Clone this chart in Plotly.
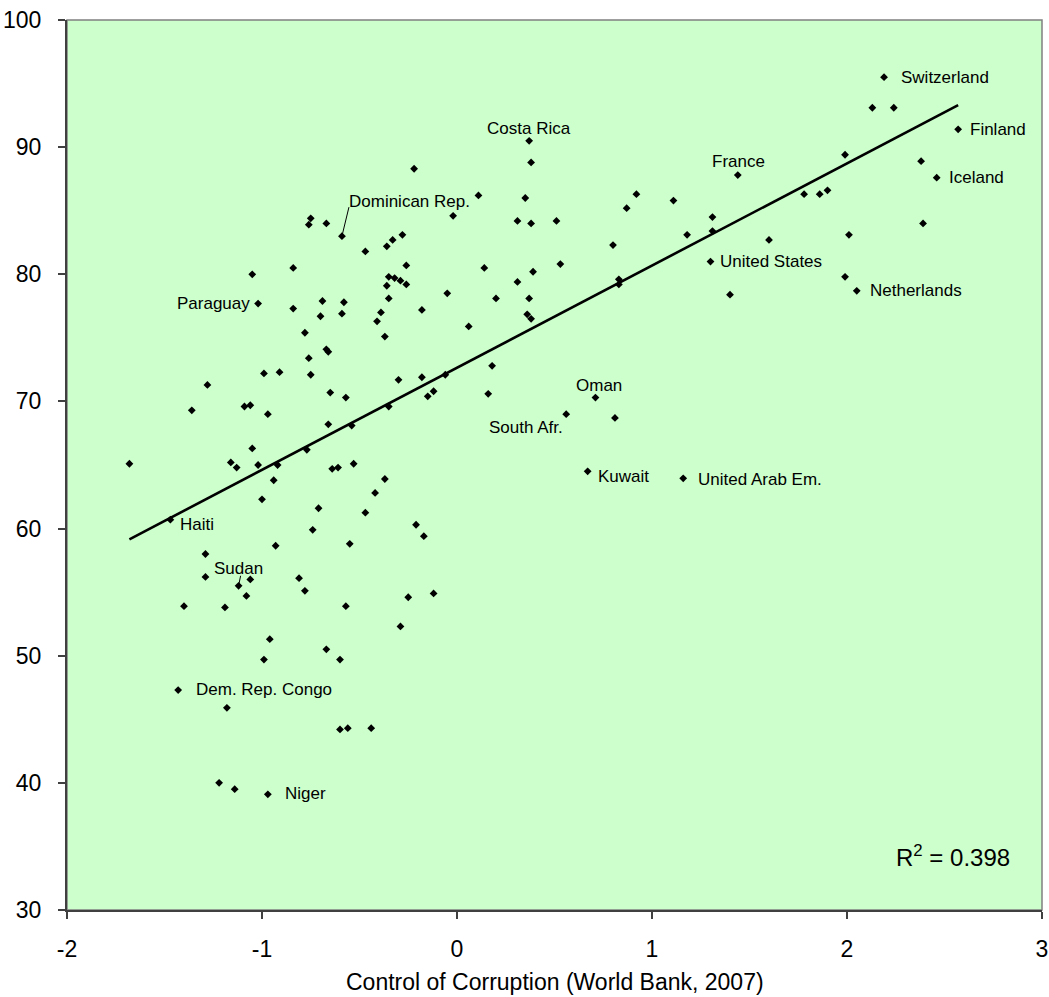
import numpy as np
import plotly.graph_objects as go

# ---- data: unlabeled countries (control of corruption, score) ----
x_unlabeled = [
    -0.84, -0.69, -0.58, -0.70, -0.59, -0.78, -0.76, -0.67, -0.66, -0.99, -0.91, -0.75,
    -1.28, -0.65, -0.57, -1.36, -1.09, -1.06, -0.97, -0.66, -0.54, -1.05, -0.77, -1.68,
    -1.16, -1.13, -1.02, -0.92, -0.64, -0.61, -0.53, -0.94, -1.00, -0.71, -0.74, -0.93,
    -0.55, -1.29,
    -1.29, -1.06, -0.81, -0.78, -1.08, -1.40, -1.19, -0.57, -0.96, -0.67, -0.99, -0.60,
    -1.18, -0.60, -0.56, -1.22, -1.14,
    -0.37, -0.42, -0.47, -0.21, -0.17, -0.25, -0.12, -0.29, -0.44,
    -0.75, -0.76, -0.67, 0.11, 0.35, -0.02, 0.31, 0.38, -0.47, -0.36, -0.33, -0.28,
    -0.84, -1.05, -0.26, 0.14, 0.39, -0.35, -0.32, -0.29, -0.26, -0.36, 0.31, -0.05,
    -0.35, 0.20, 0.37, -0.39, -0.18, -0.41, 0.36, 0.38, 0.06, -0.37, -0.30, -0.18,
    -0.06, 0.18, -0.15, -0.12, 0.16, -0.35,
    0.38, 0.92, 0.87, 1.11, 0.51, 1.31, 1.31, 1.18, 0.80, 0.53, 0.83, 0.83, 1.40, 0.81,
    2.13, 2.24, 1.99, 2.38, 1.78, 1.86, 1.90, 2.39, 1.60, 2.01, 1.99,
    -0.22,
]
y_unlabeled = [
    77.3, 77.9, 77.8, 76.7, 76.9, 75.4, 73.4, 74.1, 73.9, 72.2, 72.3, 72.1,
    71.3, 70.7, 70.3, 69.3, 69.6, 69.7, 69.0, 68.2, 68.1, 66.3, 66.2, 65.1,
    65.2, 64.8, 65.0, 65.0, 64.7, 64.8, 65.1, 63.8, 62.3, 61.6, 59.9, 58.65,
    58.8, 58.0,
    56.2, 56.0, 56.1, 55.1, 54.7, 53.9, 53.8, 53.9, 51.3, 50.5, 49.7, 49.7,
    45.9, 44.2, 44.3, 40.0, 39.5,
    63.9, 62.8, 61.25, 60.3, 59.4, 54.6, 54.9, 52.3, 44.3,
    84.4, 83.9, 84.0, 86.2, 86.0, 84.6, 84.2, 84.0, 81.8, 82.2, 82.7, 83.1,
    80.5, 80.0, 80.7, 80.5, 80.2, 79.8, 79.7, 79.5, 79.2, 79.1, 79.4, 78.5,
    78.1, 78.1, 78.1, 77.0, 77.2, 76.3, 76.85, 76.5, 75.9, 75.1, 71.7, 71.9,
    72.1, 72.8, 70.4, 70.8, 70.6, 69.6,
    88.8, 86.3, 85.2, 85.8, 84.2, 84.5, 83.4, 83.1, 82.3, 80.8, 79.6, 79.2, 78.4, 68.7,
    93.1, 93.1, 89.4, 88.9, 86.3, 86.3, 86.6, 84.0, 82.7, 83.1, 79.8,
    88.3,
]

# ---- data: labeled countries ----
label_names = ["Switzerland", "Finland", "Iceland", "France", "United States",
               "Netherlands", "Costa Rica", "Oman", "South Afr.", "Kuwait",
               "United Arab Em.", "Dominican Rep.", "Paraguay", "Haiti", "Sudan",
               "Dem. Rep. Congo", "Niger"]
label_x = [2.19, 2.57, 2.46, 1.44, 1.30, 2.05, 0.37, 0.71, 0.56, 0.67,
           1.16, -0.59, -1.02, -1.47, -1.12, -1.43, -0.97]
label_y = [95.5, 91.4, 87.6, 87.8, 81.0, 78.7, 90.5, 70.3, 69.0, 64.5,
           63.95, 83.0, 77.7, 60.7, 55.5, 47.3, 39.1]

# ---- tick labels ----
x_tick_vals = [-2, -1, 0, 1, 2, 3]
x_tick_text = ["-2", "-1", "0", "1", "2", "3"]
y_tick_vals = [30, 40, 50, 60, 70, 80, 90, 100]
y_tick_text = ["30", "40", "50", "60", "70", "80", "90", "100"]

r2_text = "R<sup>2</sup> = 0.398"
x_title = "Control of Corruption (World Bank, 2007)"

# label placement (pixel offsets, anchor) - styling only
label_style = {
    "Switzerland": (15, 0, "left"),
    "Finland": (10, 0, "left"),
    "Iceland": (10, 0, "left"),
    "France": (-28, 14, "left"),
    "United States": (7, 0, "left"),
    "Netherlands": (11, 0, "left"),
    "Costa Rica": (0, 12, "center"),
    "Oman": (-21, 12, "left"),
    "South Afr.": (-1, -13, "right"),
    "Kuwait": (8, -5, "left"),
    "United Arab Em.": (13, -1, "left"),
    "Dominican Rep.": (5, 35, "left"),
    "Paraguay": (-6, 0, "right"),
    "Haiti": (8, -5, "left"),
    "Sudan": (-27, 17, "left"),
    "Dem. Rep. Congo": (16, 1, "left"),
    "Niger": (15, 1, "left"),
}
leaders = {"Dominican Rep.": (7, 29), "Sudan": (2, 10)}

xs = np.array(x_unlabeled + label_x)
ys = np.array(y_unlabeled + label_y)
slope, intercept = np.polyfit(xs, ys, 1)
x_line = np.array([xs.min(), xs.max()])
y_line = intercept + slope * x_line

FONT = "Liberation Sans, Arial, sans-serif"
AX = "#404040"

fig = go.Figure()
fig.add_trace(go.Scatter(x=x_line, y=y_line, mode="lines",
                         line=dict(color="black", width=2.6),
                         hoverinfo="skip", showlegend=False))
fig.add_trace(go.Scatter(x=list(xs), y=list(ys), mode="markers",
                         marker=dict(symbol="diamond", size=6, color="black",
                                     line=dict(width=0)),
                         showlegend=False))

for name, lx, ly in zip(label_names, label_x, label_y):
    dx, dy, anchor = label_style[name]
    fig.add_annotation(x=lx, y=ly, text=name, showarrow=False,
                       xanchor=anchor, yanchor="middle", xshift=dx, yshift=dy,
                       font=dict(family=FONT, size=17, color="black"))
    if name in leaders:
        lx1, ly1 = leaders[name]
        fig.add_shape(type="line", xref="x", yref="y",
                      xsizemode="pixel", ysizemode="pixel",
                      xanchor=lx, yanchor=ly, x0=0, x1=lx1, y0=0, y1=ly1,
                      line=dict(color="black", width=1))

fig.add_annotation(xref="paper", yref="paper", x=0.969, y=0.061,
                   xanchor="right", yanchor="middle", text=r2_text,
                   showarrow=False, font=dict(family=FONT, size=24, color="black"))
fig.add_annotation(xref="paper", yref="paper", x=0.5, y=-0.081,
                   xanchor="center", yanchor="middle", text=x_title,
                   showarrow=False, font=dict(family=FONT, size=23, color="black"))

# plot-area border
fig.add_shape(type="rect", xref="paper", yref="paper", x0=0, x1=1, y0=0, y1=1,
              line=dict(color="#808080", width=1.5), layer="below")

fig.update_layout(
    width=1049, height=997,
    margin=dict(l=67, r=7, t=20, b=87, autoexpand=False),
    paper_bgcolor="white", plot_bgcolor="#CCFFCC",
    font=dict(family=FONT, size=23, color="black"),
    showlegend=False,
)
fig.update_xaxes(range=[-2, 3], tickmode="array", tickvals=x_tick_vals,
                 ticktext=x_tick_text, showgrid=False, zeroline=False,
                 showline=True, linecolor=AX, linewidth=2, automargin=False,
                 ticks="outside", ticklen=7, tickcolor=AX, tickwidth=1.5,
                 ticklabelstandoff=10,
                 tickfont=dict(family=FONT, size=23, color="black"))
fig.update_yaxes(range=[30, 100], tickmode="array", tickvals=y_tick_vals,
                 ticktext=y_tick_text, showgrid=False, zeroline=False,
                 showline=True, linecolor=AX, linewidth=2, automargin=False,
                 ticks="outside", ticklen=7, tickcolor=AX, tickwidth=1.5,
                 ticklabelstandoff=12,
                 tickfont=dict(family=FONT, size=23, color="black"))

fig.write_html("out.html")
